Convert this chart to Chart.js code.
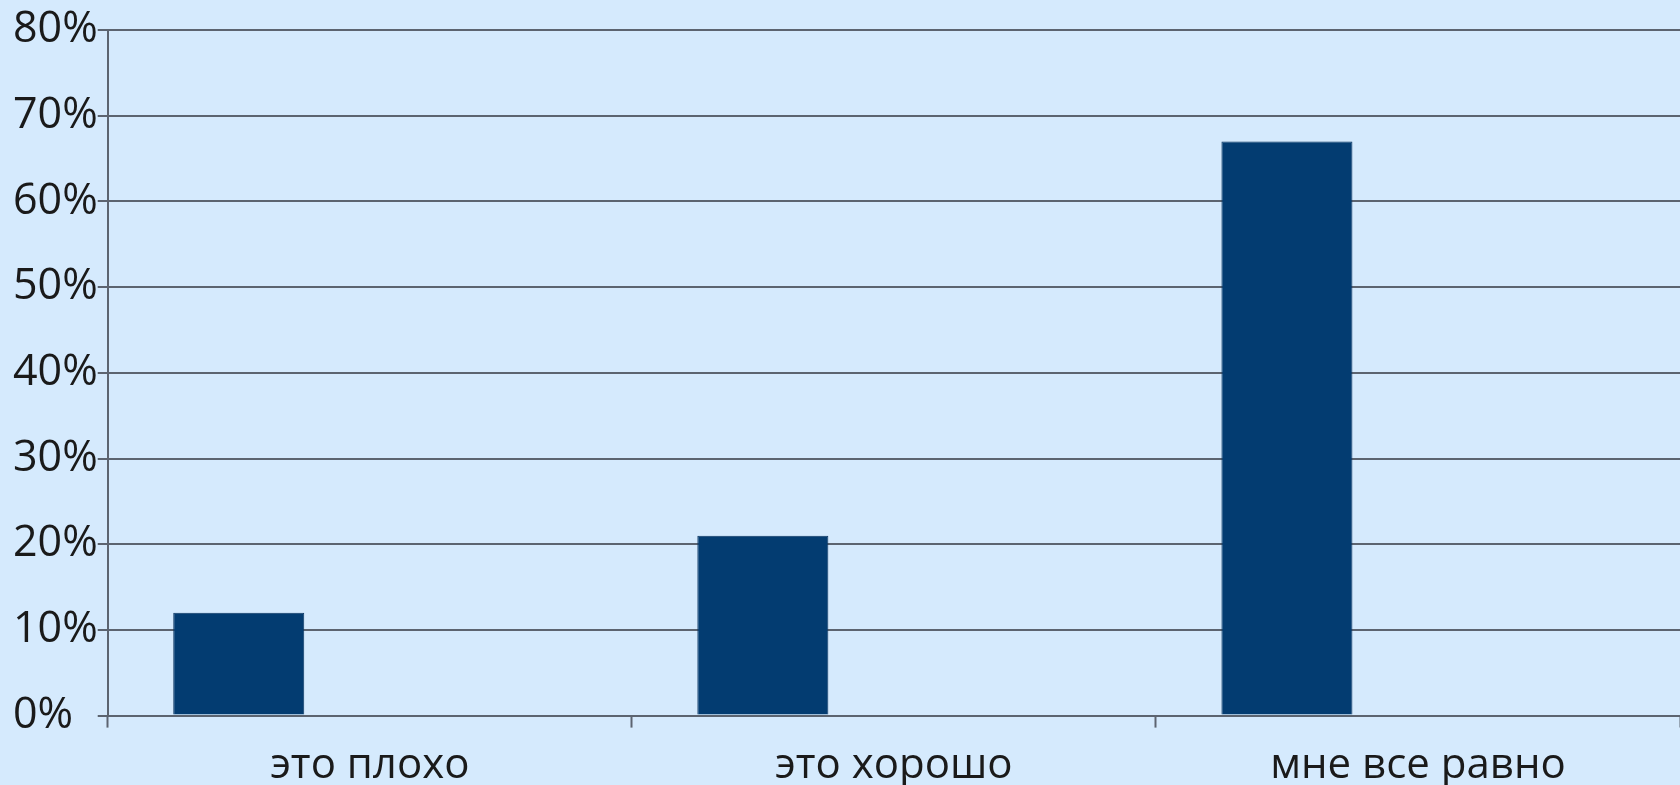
<!DOCTYPE html>
<html>
<head>
<meta charset="utf-8">
<script src="https://cdn.jsdelivr.net/npm/chart.js@4"></script>
<style>
  html, body { margin: 0; padding: 0; background: #D5EAFD; overflow: hidden; }
  #wrap { width: 1680px; height: 785px; position: relative; }
</style>
</head>
<body>
<div id="wrap"><canvas id="barChart"></canvas></div>
<script>
var categories = ["это плохо", "это хорошо", "мне все равно"];
var answers = [12, 21, 67];
var yTicks = [0, 10, 20, 30, 40, 50, 60, 70, 80];

BarChart();

function BarChart()
{
    var gridColor = "#5c6470";
    new Chart("barChart", {
        type: "bar",
        data: {
            labels: categories,
            datasets: [{
                data: answers,
                backgroundColor: "#033C71",
                borderColor: "#0B3560",
                borderWidth: 1
            }, {
                data: []
            }, {
                data: []
            }]
        },
        options: {
            maintainAspectRatio: false,
            responsive: true,
            animation: false,
            layout: { padding: { left: 13, top: 30, right: 0, bottom: -19 } },
            plugins: {
                legend: { display: false },
                tooltip: { enabled: false }
            },
            datasets: {
                bar: { categoryPercentage: 0.75, barPercentage: 1 }
            },
            scales: {
                x: {
                    grid: {
                        offset: true,
                        drawOnChartArea: false,
                        drawTicks: true,
                        tickLength: 12,
                        tickWidth: 2,
                        tickColor: gridColor
                    },
                    border: { display: true, color: gridColor, width: 2 },
                    ticks: {
                        color: "#1a1a1a",
                        padding: 13,
                        font: { family: "'Open Sans', sans-serif", size: 42 }
                    }
                },
                y: {
                    min: 0,
                    max: 80,
                    afterBuildTicks: function(axis) {
                        axis.ticks = yTicks.map(function(v) { return { value: v }; });
                    },
                    grid: {
                        color: gridColor,
                        lineWidth: 2,
                        tickLength: 10
                    },
                    border: { display: true, color: gridColor, width: 2 },
                    ticks: {
                        color: "#1a1a1a",
                        crossAlign: "far",
                        padding: 0,
                        font: { family: "'Open Sans', sans-serif", size: 43, lineHeight: 1 },
                        callback: function(v) { return v + "%"; }
                    }
                }
            }
        }
    });
}
</script>
</body>
</html>
